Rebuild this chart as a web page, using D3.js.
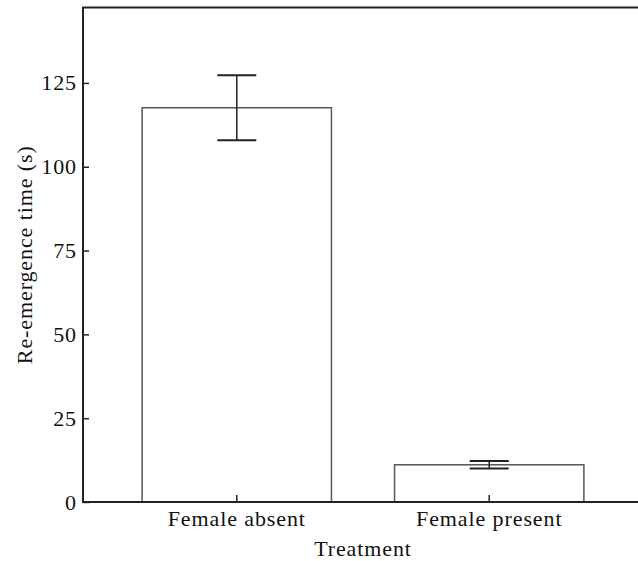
<!DOCTYPE html>
<meta charset="utf-8">
<style>
    body { margin: 0; background: #fff; }
    text { font-family: "Liberation Serif", "DejaVu Serif", serif; fill: #111; }
    .frame { stroke: #222; stroke-width: 2; fill: none; }
    rect.bar { fill: #fff; stroke: #555; stroke-width: 1.5; }
    line.err { stroke: #222; stroke-width: 2; }
</style>
<body>
<script src="https://cdn.jsdelivr.net/npm/d3@7"></script>
<script>

    var categories = ["Female absent", "Female present"];
    var means = [117.6, 11.1];
    var errors = [9.7, 1.1];
    var yTicks = [0, 25, 50, 75, 100, 125];

    var width = 638, height = 561;
    var mLeft = 83, mTop = 7.5, mBottom = 502, mRight = 638;
    var fontSize = "22px", spacing = "0.9px";

    var svg = d3.select("body").append("svg")
            .attr("width", width)
            .attr("height", height);

    var x = d3.scaleBand()
            .domain(categories)
            .range([79, 647])
            .paddingInner(0.25)
            .paddingOuter(0.25);

    var y = d3.scaleLinear()
            .domain([0, 147.5])
            .range([mBottom, mTop]);

    // bars
    svg.selectAll("rect.bar").data(categories).enter()
            .append("rect")
            .attr("class", "bar")
            .attr("x", function(d) { return x(d); })
            .attr("width", x.bandwidth())
            .attr("y", function(d, i) { return y(means[i]); })
            .attr("height", function(d, i) { return y(0) - y(means[i]); });

    // error bars
    var eg = svg.selectAll("g.err").data(categories).enter()
            .append("g")
            .attr("class", "err")
            .attr("transform", function(d) { return "translate(" + (x(d) + x.bandwidth() / 2) + ",0)"; });

    eg.append("line").attr("class", "err")
            .attr("x1", 0).attr("x2", 0)
            .attr("y1", function(d, i) { return y(means[i] + errors[i]); })
            .attr("y2", function(d, i) { return y(means[i] - errors[i]); })
            .style("stroke-width", 1.5);
    [1, -1].forEach(function(s) {
        eg.append("line").attr("class", "err")
                .attr("x1", -19.5).attr("x2", 19.5)
                .attr("y1", function(d, i) { return y(means[i] + s * errors[i]); })
                .attr("y2", function(d, i) { return y(means[i] + s * errors[i]); });
    });

    // y axis (ticks pointing inward)
    var yAxis = svg.append("g")
            .attr("transform", "translate(" + mLeft + ",0)")
            .call(d3.axisRight(y).tickValues(yTicks).tickSize(6).tickFormat(d3.format("d")));
    yAxis.select(".domain").remove();
    yAxis.selectAll(".tick line").attr("stroke", "#222").attr("stroke-width", 1.5);
    yAxis.selectAll(".tick text")
            .attr("x", -6)
            .attr("text-anchor", "end")
            .style("font-size", fontSize)
            .style("letter-spacing", spacing)
            .style("font-family", "'Liberation Serif', serif")
            .attr("fill", "#111");

    // x axis (ticks pointing inward)
    var xAxis = svg.append("g")
            .attr("transform", "translate(0," + mBottom + ")")
            .call(d3.axisTop(x).tickSize(7));
    xAxis.select(".domain").remove();
    xAxis.selectAll(".tick line").attr("stroke", "#222").attr("stroke-width", 1.5);
    xAxis.selectAll(".tick text")
            .attr("y", 24)
            .attr("dy", 0)
            .style("font-size", fontSize)
            .style("letter-spacing", spacing)
            .style("font-family", "'Liberation Serif', serif")
            .attr("fill", "#111");

    // frame: left, top, bottom
    svg.append("path")
            .attr("class", "frame")
            .attr("d", "M" + mRight + "," + mTop + "H" + mLeft + "V" + mBottom + "H" + mRight);

    // axis titles
    svg.append("text")
            .attr("x", 363)
            .attr("y", 556)
            .attr("text-anchor", "middle")
            .style("font-size", fontSize)
            .style("letter-spacing", spacing)
            .text("Treatment");

    svg.append("text")
            .attr("transform", "translate(32," + ((mTop + mBottom) / 2) + ") rotate(-90)")
            .attr("text-anchor", "middle")
            .style("font-size", fontSize)
            .style("letter-spacing", spacing)
            .text("Re-emergence time (s)");

</script>
</body>
